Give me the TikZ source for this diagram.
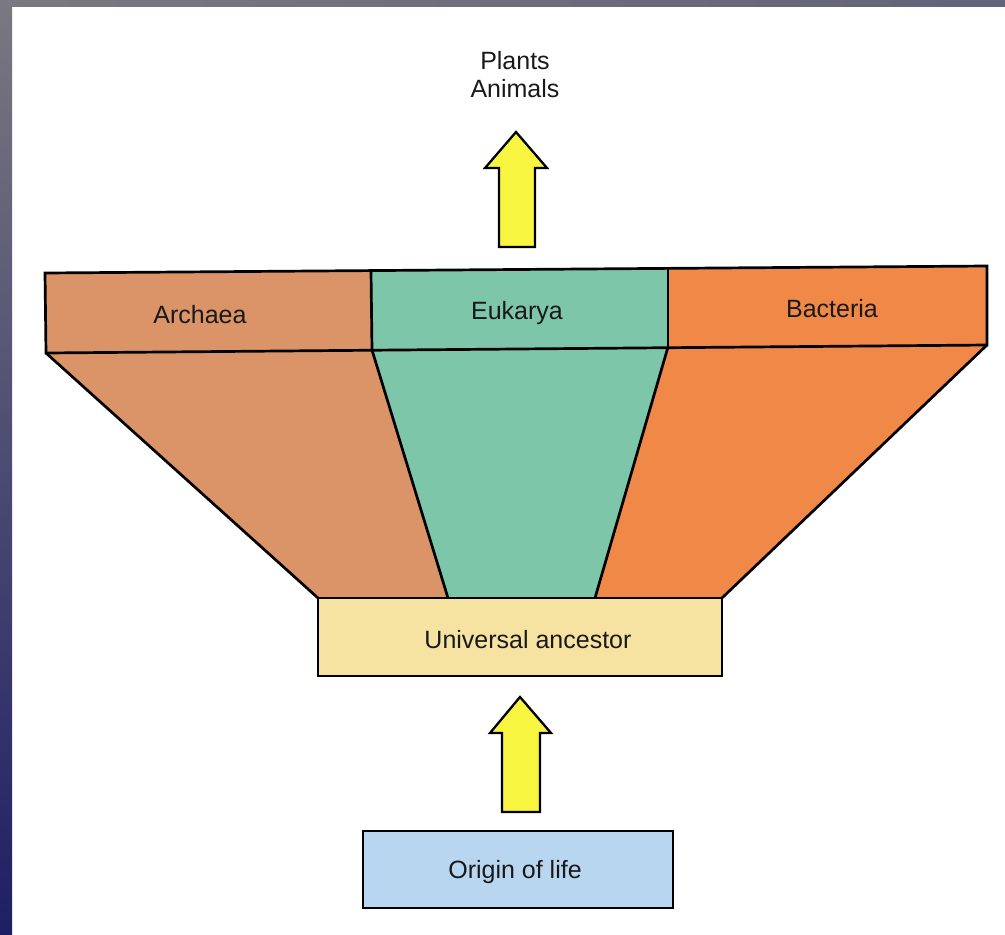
\documentclass[tikz,border=0pt]{standalone}
\usepackage{fontspec}
\setmainfont{Liberation Sans}
\definecolor{archaeacol}{HTML}{DA9467}
\definecolor{bacteriacol}{HTML}{F08848}
\definecolor{eukcol}{HTML}{7EC6A9}
\definecolor{univcol}{HTML}{F6E3A2}
\definecolor{origincol}{HTML}{B8D6F0}
\definecolor{arrowcol}{HTML}{F8F540}
\definecolor{frametop}{HTML}{7A7880}
\definecolor{frameright}{HTML}{646277}
\definecolor{framebottom}{HTML}{1E1E64}
\tikzset{
  outline/.style={draw=black, line width=2.7pt, line join=miter},
  lbl/.style={font=\fontsize{25}{28}\selectfont, text=black!90, inner sep=0pt, anchor=base},
  blockarrow/.style={fill=arrowcol, draw=black, line width=2.3pt, line join=miter}
}
\begin{document}
\begin{tikzpicture}[x=1pt,y=-1pt]
\useasboundingbox (0,0) rectangle (1005,935);
% slide background
\fill[white] (12,6) rectangle (1005,935);
\shade[top color=frametop, bottom color=framebottom] (0,0) rectangle (12,935);
\shade[left color=frametop, right color=frameright] (0,0) rectangle (1005,6);

% key points
\coordinate (tl) at (45,273);
\coordinate (d1t) at (371,271);
\coordinate (d2t) at (668,268);
\coordinate (tr) at (987,266);
\coordinate (bl) at (46,353);
\coordinate (d1b) at (372,350);
\coordinate (d2b) at (668,347);
\coordinate (br) at (987,345);
\coordinate (ul) at (318,598);
\coordinate (el) at (448,598);
\coordinate (er) at (595,598);
\coordinate (ur) at (722,598);

% trapezoids
\fill[archaeacol] (bl) -- (d1b) -- (el) -- (ul) -- cycle;
\fill[eukcol] (d1b) -- (d2b) -- (er) -- (el) -- cycle;
\fill[bacteriacol] (d2b) -- (br) -- (ur) -- (er) -- cycle;
\draw[outline] (bl) -- (ul);
\draw[outline] (d1b) -- (el);
\draw[outline] (d2b) -- (er);
\draw[outline] (br) -- (ur);

% top band
\fill[archaeacol] (tl) -- (d1t) -- (d1b) -- (bl) -- cycle;
\fill[eukcol] (d1t) -- (d2t) -- (d2b) -- (d1b) -- cycle;
\fill[bacteriacol] (d2t) -- (tr) -- (br) -- (d2b) -- cycle;
\draw[outline] (tl) -- (tr) -- (br) -- (bl) -- cycle;
\draw[outline] (d1t) -- (d1b);
\draw[outline] (d2t) -- (d2b);

% universal ancestor box
\draw[outline, fill=univcol] (318,598) rectangle (722,676);
% origin of life box
\draw[outline, fill=origincol] (363,831) rectangle (673,908);

% labels
\node[lbl] (archaea) at (200,323) {Archaea};
\node[lbl] (eukarya) at (517,319) {Eukarya};
\node[lbl] (bacteria) at (832,317) {Bacteria};
\node[lbl] (univ) at (528,648) {Universal ancestor};
\node[lbl] (origin) at (515,878) {Origin of life};
\node[lbl] (plants) at (515,69) {Plants};
\node[lbl] (animals) at (515,97) {Animals};

% block arrows
\draw[blockarrow] (499,247) -- (499,168) -- (485,168) -- (516,132) -- (547,168) -- (535,168) -- (535,247) -- cycle;
\draw[blockarrow] (502,812) -- (502,733) -- (490,733) -- (520,697) -- (551,733) -- (540,733) -- (540,812) -- cycle;
\end{tikzpicture}
\end{document}
